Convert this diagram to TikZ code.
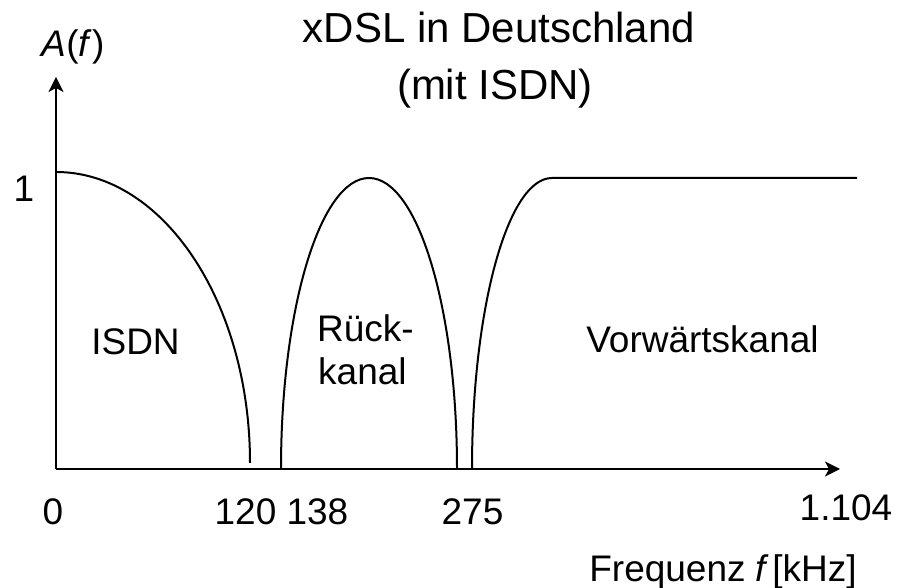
\documentclass[tikz,border=0pt]{standalone}
\usepackage{fontspec}
\setmainfont{Liberation Sans}
\usetikzlibrary{arrows.meta}
\begin{document}
\begin{tikzpicture}[x=1pt,y=1pt,
  lbl/.style={inner sep=0pt,anchor=base,font=\fontsize{37}{44}\selectfont},
  ttl/.style={inner sep=0pt,anchor=base,font=\fontsize{42}{50}\selectfont},
  axis/.style={line width=2pt,-{Stealth[length=15pt,width=15pt,inset=4pt]}},
  curve/.style={line width=2pt}]
\useasboundingbox (0,0) rectangle (907,588);
\coordinate (O) at (56,119);
\coordinate (ytop) at (56,511);
\coordinate (xend) at (840,119);
\draw[axis] (O) -- (ytop);
\draw[axis] (O) -- (xend);
% curves
\coordinate (isdnA) at (56,416);
\draw[curve] (isdnA) arc[start angle=90,end angle=0,x radius=194,y radius=291];
\coordinate (rueckA) at (281,119);
\draw[curve] (rueckA) arc[start angle=180,end angle=0,x radius=88,y radius=291];
\coordinate (vorA) at (472,119);
\coordinate (vorE) at (857,410);
\draw[curve] (vorA) arc[start angle=180,end angle=90,x radius=80,y radius=291] -- (vorE);
% texts
\node[ttl] (t1) at (499,545) {xDSL in Deutschland};
\node[ttl] (t2) at (495,488) {(mit ISDN)};
\node[lbl] (af) at (73,531) {\textit{A}(\textit{f})};
\node[lbl] (one) at (24,386) {1};
\node[lbl] (l0) at (53,63) {0};
\node[lbl] (l120) at (281.5,63) {120 138};
\node[lbl] (l275) at (472.5,63) {275};
\node[lbl] (l1104) at (846,67) {1.104};
\node[lbl] (freq) at (723,6) {Frequenz \textit{f\,}[kHz]};
\node[lbl] (isdn) at (135.5,233) {ISDN};
\node[lbl,anchor=base west] (r1) at (317,246) {Rück-};
\node[lbl,anchor=base west] (r2) at (318,203) {kanal};
\node[lbl] (vor) at (702.5,235) {Vorwärtskanal};
\end{tikzpicture}
\end{document}
